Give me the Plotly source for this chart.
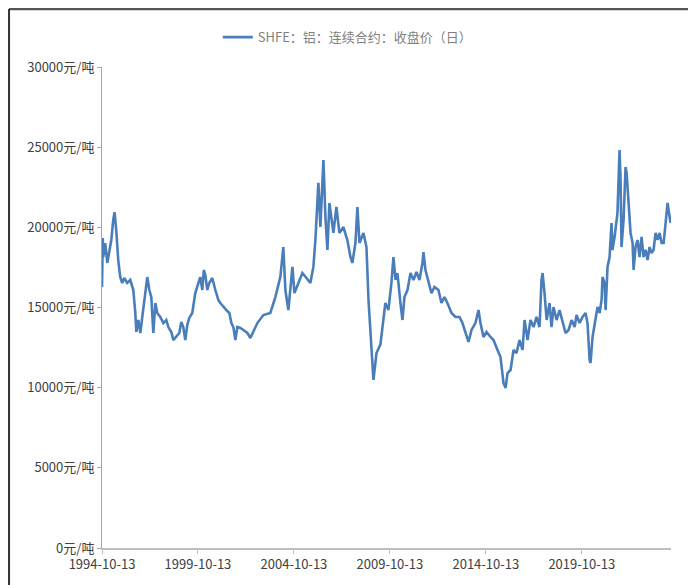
import plotly.graph_objects as go

dates = [
    "1994-10-13", "1994-10-28", "1994-11-06", "1994-12-13", "1995-01-22", "1995-03-01",
    "1995-04-08", "1995-05-15", "1995-06-09", "1995-07-11", "1995-08-18", "1995-09-25",
    "1995-11-02", "1995-12-10", "1996-02-05", "1996-04-03", "1996-05-31", "1996-07-08",
    "1996-07-27", "1996-09-03", "1996-10-12", "1996-11-18", "1997-01-14", "1997-02-21",
    "1997-04-01", "1997-05-08", "1997-06-16", "1997-07-24", "1997-08-30", "1997-10-26",
    "1997-12-23", "1998-02-18", "1998-03-28", "1998-05-24", "1998-07-01", "1998-08-27",
    "1998-10-23", "1998-11-30", "1999-01-07", "1999-02-14", "1999-03-24", "1999-05-01",
    "1999-06-27", "1999-08-23", "1999-10-19", "1999-11-26", "2000-01-04", "2000-02-01",
    "2000-03-01", "2000-04-08", "2000-05-16", "2000-07-12", "2000-09-08", "2000-11-04",
    "2000-12-12", "2001-02-08", "2001-04-06", "2001-06-02", "2001-07-10", "2001-08-17",
    "2001-09-24", "2001-11-01", "2001-12-28", "2002-02-24", "2002-05-11", "2002-07-07",
    "2002-11-17", "2003-03-11", "2003-07-22", "2003-10-25", "2004-01-28", "2004-03-25",
    "2004-05-03", "2004-06-29", "2004-09-14", "2004-10-22", "2005-01-06", "2005-03-23",
    "2005-06-08", "2005-08-22", "2005-10-18", "2005-11-25", "2006-01-21", "2006-02-28",
    "2006-04-27", "2006-06-04", "2006-07-12", "2006-08-19", "2006-11-03", "2006-12-30",
    "2007-02-25", "2007-05-12", "2007-07-27", "2007-09-23", "2007-10-30", "2007-12-27",
    "2008-02-03", "2008-03-13", "2008-05-28", "2008-07-24", "2008-09-01", "2008-10-09",
    "2008-12-04", "2009-01-31", "2009-04-16", "2009-07-19", "2009-09-15", "2009-11-11",
    "2009-12-20", "2010-01-27", "2010-03-06", "2010-05-02", "2010-06-09", "2010-07-17",
    "2010-09-13", "2010-11-09", "2011-01-05", "2011-03-03", "2011-04-29", "2011-06-25",
    "2011-07-14", "2011-08-21", "2011-10-17", "2011-12-13", "2012-02-08", "2012-04-24",
    "2012-06-20", "2012-08-16", "2012-10-12", "2012-12-28", "2013-03-14", "2013-05-29",
    "2013-07-25", "2013-09-21", "2013-11-17", "2014-01-13", "2014-03-29", "2014-05-26",
    "2014-07-03", "2014-08-29", "2014-10-25", "2015-01-10", "2015-03-08", "2015-05-23",
    "2015-07-19", "2015-09-14", "2015-10-23", "2015-11-30", "2016-01-26", "2016-03-23",
    "2016-05-19", "2016-07-15", "2016-09-11", "2016-10-19", "2016-12-15", "2017-02-09",
    "2017-04-08", "2017-06-04", "2017-07-31", "2017-09-07", "2017-09-27", "2017-11-03",
    "2017-12-13", "2018-02-07", "2018-03-16", "2018-04-23", "2018-06-20", "2018-08-15",
    "2018-10-12", "2018-12-08", "2019-02-04", "2019-04-02", "2019-05-30", "2019-07-06",
    "2019-09-01", "2019-10-28", "2019-12-24", "2020-01-30", "2020-03-10", "2020-03-28",
    "2020-05-05", "2020-07-01", "2020-08-08", "2020-09-16", "2020-10-24", "2020-11-11",
    "2020-12-20", "2021-01-08", "2021-02-14", "2021-03-25", "2021-05-01", "2021-05-19",
    "2021-06-28", "2021-08-22", "2021-09-12", "2021-10-01", "2021-10-20", "2021-11-07",
    "2021-12-16", "2022-01-04", "2022-01-23", "2022-02-13", "2022-03-22", "2022-04-28",
    "2022-06-06", "2022-06-25", "2022-08-01", "2022-09-09", "2022-10-16", "2022-11-24",
    "2023-01-01", "2023-02-09", "2023-03-18", "2023-04-25", "2023-06-03", "2023-07-10",
    "2023-08-18", "2023-09-25", "2023-11-02", "2023-12-10", "2024-01-18", "2024-02-25",
    "2024-04-02", "2024-05-11", "2024-05-30",
]

close_price = [
    16280, 19330, 18150, 19020, 17780, 18590,
    19210, 20460, 20950, 19830, 17960, 16900,
    16530, 16840, 16530, 16720, 16090, 14660,
    13470, 14220, 13410, 14410, 16090, 16900,
    16090, 15650, 13410, 15280, 14660, 14410,
    14030, 14220, 13780, 13470, 12970, 13160,
    13410, 14100, 13780, 12970, 13910, 14350,
    14660, 15900, 16530, 16900, 16090, 17340,
    17030, 16090, 16530, 16840, 16090, 15470,
    15280, 15030, 14840, 14660, 14030, 13780,
    12970, 13780, 13720, 13600, 13410, 13100,
    14030, 14530, 14660, 15650, 16900, 18770,
    16090, 14840, 17530, 15900, 16530, 17150,
    16840, 16530, 17530, 19210, 22770, 20020,
    24200, 20640, 18590, 21520, 19650, 21270,
    19650, 20020, 19210, 18150, 17780, 19020,
    21270, 19020, 19650, 18770, 15470, 13600,
    10480, 12160, 12700, 15280, 14840, 16530,
    18150, 16720, 17150, 15280, 14220, 15650,
    16090, 17150, 16720, 17210, 16720, 17780,
    18460, 17340, 16530, 15900, 16280, 16090,
    15280, 15650, 15280, 14660, 14410, 14410,
    14030, 13410, 12850, 13600, 14030, 14840,
    14030, 13160, 13470, 13160, 12970, 12350,
    11910, 10290, 9980, 10910, 11100, 12350,
    12160, 12970, 12350, 14220, 12970, 14220,
    13780, 14410, 13780, 16720, 17150, 15900,
    14220, 15280, 13780, 15030, 14220, 14840,
    14030, 13410, 13600, 14220, 13780, 14530,
    14030, 14410, 14660, 14030, 11720, 11540,
    13160, 14220, 15030, 14660, 15470, 16900,
    16530, 14840, 17530, 18150, 20270, 18590,
    19400, 20890, 23760, 24820, 22950, 18770,
    20460, 22520, 23760, 23380, 21270, 19650,
    19020, 17340, 18770, 19210, 18150, 19400,
    18150, 18590, 17960, 18770, 18400, 18590,
    19650, 19210, 19650, 19020, 19020, 20270,
    21520, 20640, 20270,
]

series_name = "SHFE：铝：连续合约：收盘价（日）"
y_ticks = [0, 5000, 10000, 15000, 20000, 25000, 30000]
x_ticks = ["1994-10-13", "1999-10-13", "2004-10-13", "2009-10-13", "2014-10-13", "2019-10-13"]

fig = go.Figure()
fig.add_trace(go.Scatter(
    x=dates, y=close_price, mode="lines", name=series_name,
    line=dict(color="#4A7EBB", width=2.6),
))

font_family = "Noto Sans CJK SC"
fig.update_layout(
    width=688, height=577,
    margin=dict(l=94, r=25, t=59, b=37),
    paper_bgcolor="white", plot_bgcolor="white",
    font=dict(family=font_family, size=13, color="#404040"),
    showlegend=True,
    legend=dict(
        orientation="h", x=0.432, xanchor="center", y=1.062, yanchor="middle",
        font=dict(family=font_family, size=13, color="#7f7f7f"),
        itemwidth=30, bgcolor="rgba(0,0,0,0)",
    ),
    xaxis=dict(
        type="date", range=["1994-10-13", "2024-06-06"],
        tickvals=x_ticks, ticktext=x_ticks,
        showgrid=False, zeroline=False,
        showline=True, linecolor="#bfbfbf", linewidth=1.5,
        ticks="outside", ticklen=4, tickcolor="#bfbfbf",
        tickfont=dict(family=font_family, size=13, color="#404040"),
    ),
    yaxis=dict(
        range=[0, 30000], tickvals=y_ticks,
        ticktext=[f"{v}元/吨" for v in y_ticks],
        showgrid=False, zeroline=False,
        showline=True, linecolor="#a6a6a6", linewidth=1,
        ticks="outside", ticklen=4, tickcolor="#a6a6a6",
        tickfont=dict(family=font_family, size=13, color="#404040"),
    ),
    shapes=[
        dict(type="line", xref="paper", yref="paper", x0=-0.1634, x1=1.03, y0=1.1206, y1=1.1206,
             line=dict(color="#555555", width=2.5)),
        dict(type="line", xref="paper", yref="paper", x0=-0.1634, x1=-0.1634, y0=1.1206, y1=-0.08,
             line=dict(color="#333333", width=2)),
    ],
)

fig.write_html("out.html")
